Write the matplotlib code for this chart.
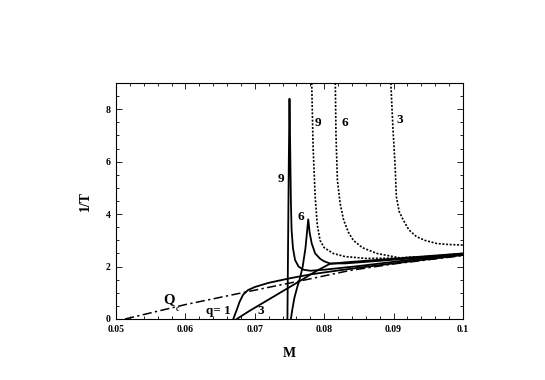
import matplotlib
matplotlib.use("Agg")
import matplotlib.pyplot as plt
from matplotlib.ticker import MultipleLocator, FixedLocator, FixedFormatter

# ---- data ----
qc_M = [0.0513, 0.060, 0.070, 0.0765, 0.0837, 0.090, 0.100]
qc_y = [0.0, 0.55, 1.10, 1.45, 1.85, 2.10, 2.42]

q1_M = [0.0669, 0.0674, 0.0678, 0.0683, 0.0690, 0.0700, 0.0720, 0.0750, 0.0780, 0.0820, 0.0860, 0.0900, 0.0950, 0.1000]
q1_y = [0.0, 0.35, 0.65, 0.92, 1.10, 1.22, 1.38, 1.55, 1.70, 1.85, 1.99, 2.12, 2.28, 2.44]

q3_M = [0.0674, 0.0693, 0.0730, 0.0765, 0.0790, 0.0808, 0.0830, 0.0860, 0.0900, 0.0950, 0.1000]
q3_y = [0.0, 0.32, 0.90, 1.45, 1.85, 2.10, 2.16, 2.22, 2.30, 2.40, 2.50]

q6_M = [0.0752, 0.0754, 0.0757, 0.0761, 0.0765, 0.0769, 0.0773, 0.0775, 0.0777, 0.0779, 0.0782, 0.0787, 0.0794, 0.0800, 0.0808, 0.0830, 0.0870, 0.0920, 0.1000]
q6_y = [0.0, 0.35, 0.80, 1.20, 1.55, 2.00, 2.70, 3.25, 3.80, 3.30, 2.88, 2.50, 2.30, 2.20, 2.12, 2.12, 2.20, 2.30, 2.47]

q9_M = [0.0747, 0.0748, 0.0749, 0.0750, 0.0751, 0.0752, 0.0753, 0.0755, 0.0758, 0.0763, 0.0770, 0.0780, 0.0800, 0.0850, 0.0900, 0.0950, 0.1000]
q9_y = [0.0, 3.0, 6.0, 8.40, 6.50, 4.50, 3.40, 2.70, 2.25, 2.00, 1.88, 1.84, 1.88, 2.02, 2.18, 2.33, 2.48]

d9_M = [0.0782, 0.0784, 0.0787, 0.0790, 0.0794, 0.0800, 0.0813, 0.0830, 0.0861, 0.0900, 0.0950, 0.1000]
d9_y = [9.0, 6.56, 4.66, 3.60, 3.00, 2.72, 2.50, 2.38, 2.31, 2.32, 2.38, 2.46]

d6_M = [0.0816, 0.0817, 0.0819, 0.0823, 0.0828, 0.0835, 0.0842, 0.0855, 0.0876, 0.0909, 0.0950, 0.1000]
d6_y = [9.0, 7.00, 5.30, 4.40, 3.77, 3.30, 3.00, 2.72, 2.50, 2.33, 2.38, 2.50]

d3_M = [0.0896, 0.0899, 0.0902, 0.0904, 0.0908, 0.0914, 0.0922, 0.0933, 0.0945, 0.0962, 0.0980, 0.1000]
d3_y = [9.0, 7.30, 5.93, 4.66, 4.10, 3.77, 3.40, 3.14, 3.00, 2.88, 2.84, 2.82]

x_ticks = [0.05, 0.06, 0.07, 0.08, 0.09, 0.10]
x_labels = ["0.05", "0.06", "0.07", "0.08", "0.09", "0.1"]
y_ticks = [0, 2, 4, 6, 8]
y_labels = ["0", "2", "4", "6", "8"]

# ---- figure ----
plt.rcParams['font.family'] = ['Liberation Serif', 'DejaVu Serif']
fig = plt.figure(figsize=(5.45, 3.80), dpi=100)
ax = fig.add_axes([116/545, 61/380, (463-116)/545, (319-83)/380])

lw = 1.3
ax.plot(qc_M, qc_y, color='black', lw=1.1, linestyle=(0, (6, 2.2, 1.5, 2.2)))
ax.plot(q1_M, q1_y, color='black', lw=lw)
ax.plot(q3_M, q3_y, color='black', lw=lw)
ax.plot(q6_M, q6_y, color='black', lw=lw)
ax.plot(q9_M, q9_y, color='black', lw=lw)
for mx, my in [(d9_M, d9_y), (d6_M, d6_y), (d3_M, d3_y)]:
    ax.plot(mx, my, color='black', lw=1.2, linestyle=(0, (1.2, 1.0)))

ax.set_xlim(0.05, 0.1)
ax.set_ylim(0, 9)

ax.xaxis.set_major_locator(FixedLocator(x_ticks))
ax.xaxis.set_major_formatter(FixedFormatter(x_labels))
ax.xaxis.set_minor_locator(MultipleLocator(0.002))
ax.yaxis.set_major_locator(FixedLocator(y_ticks))
ax.yaxis.set_major_formatter(FixedFormatter(y_labels))
ax.yaxis.set_minor_locator(MultipleLocator(0.5))
ax.tick_params(which='both', direction='in', top=True, right=True, width=0.6)
ax.tick_params(which='major', length=4, labelsize=7, pad=4)
ax.tick_params(which='minor', length=2)
for lab in ax.get_xticklabels() + ax.get_yticklabels():
    lab.set_fontweight('bold')
for s in ax.spines.values():
    s.set_linewidth(0.8)

ax.set_xlabel("M", fontsize=10, fontweight='bold', labelpad=10)
ax.set_ylabel("1/T", fontsize=10, fontweight='bold', labelpad=10)

tk = dict(fontsize=9.5, fontweight='bold', ha='center', va='center')
ax.text(0.0738, 5.34, "9", **tk)
ax.text(0.0767, 3.9, "6", **tk)
ax.text(0.0791, 7.46, "9", **tk)
ax.text(0.0830, 7.46, "6", **tk)
ax.text(0.0909, 7.6, "3", **tk)
ax.text(0.0648, 0.32, "q= 1", **tk)
ax.text(0.0708, 0.30, "3", **tk)
ax.text(0.0576, 0.72, "Q", fontsize=10.5, fontweight='bold', ha='center', va='center')
ax.text(0.0588, 0.40, "c", fontsize=5.5, fontweight='bold', ha='center', va='center')

fig.savefig("out.png", dpi=100)
